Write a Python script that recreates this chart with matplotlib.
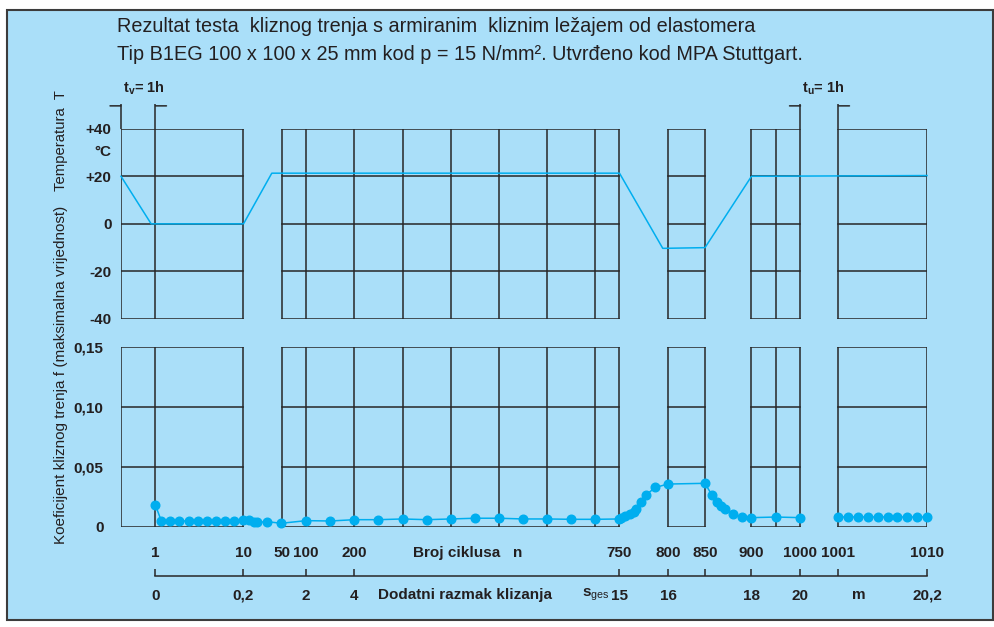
import matplotlib.pyplot as plt
import numpy as np
from matplotlib.patches import Rectangle

plt.rcParams['font.family'] = ['Liberation Sans', 'DejaVu Sans']
plt.rcParams['mathtext.fontset'] = 'custom'
plt.rcParams['mathtext.rm'] = 'Liberation Sans'
plt.rcParams['mathtext.bf'] = 'Liberation Sans:bold'

# broken cycle axis: panels and their inner grid lines (in load cycles)
panels = [(-2.5, 10), (50, 750), (800, 850), (900, 1000), (1001, 1010)]
panel_inner = [[1], [100, 200, 300, 400, 500, 600, 700], [], [950], []]

cycle_ticks = [1, 10, 50, 100, 200, 750, 800, 850, 900, 1000, 1001, 1010]
slide_ticks = [1, 10, 100, 200, 750, 800, 850, 900, 1000, 1001, 1010]
slide_labels = ['0', '0,2', '2', '4', '15', '16', '', '18', '20', '', '20,2']

temp_ticks = [40, 20, 0, -20, -40]
temp_labels = ['+40', '+20', '0', '-20', '-40']
fric_ticks = [0.15, 0.10, 0.05, 0]
fric_labels = ['0,15', '0,10', '0,05', '0']

# temperature programme
temp_cycles = [-2.5, 0.56, 10, 39.4, 750, 794.6, 850, 900, 1010]
temp_values = [20, 0, 0, 21.3, 21.3, -10.3, -10, 20, 20.3]

# measured friction coefficient, cycles 1..1000
fric_cycles = [1, 1.6, 2.5, 3.4, 4.4, 5.3, 6.3, 7.2, 8.1, 9.05, 9.95,
               15.4, 20.9, 24, 34.9, 49.3,
               100, 150, 200, 250, 300, 350, 400, 450, 500, 550, 600, 650, 700, 750,
               751.7, 756, 760.5, 764.6, 767.3, 772, 777.2, 787, 800, 850,
               857.6, 862.7, 867, 871.7, 879.6, 889.4, 900, 950, 1000]
fric_values = [0.018, 0.005, 0.005, 0.005, 0.005, 0.005, 0.005, 0.005, 0.005, 0.005, 0.006,
               0.0058, 0.0044, 0.0039, 0.0044, 0.0031,
               0.0053, 0.005, 0.0061, 0.0061, 0.0067, 0.0061, 0.0067, 0.0073, 0.0073,
               0.0067, 0.0067, 0.0064, 0.0064, 0.0067,
               0.0078, 0.0092, 0.0108, 0.0123, 0.0148, 0.0206, 0.0267, 0.033, 0.0358, 0.0364,
               0.0264, 0.0206, 0.0175, 0.015, 0.0106, 0.0086, 0.0078, 0.0083, 0.0078]
# after the 1 h pause, cycles 1001..1010
fric2_cycles = [1001, 1002, 1003, 1004, 1005, 1006, 1007, 1008, 1009, 1010]
fric2_values = [0.0086] * 10

W, H = 995, 627
bg = '#aadff9'
grid = '#272727'
blue = '#00aeef'
txt = '#231f20'

# piecewise linear cycle scale (breakpoints in pixels)
axis_cycles = np.array([-2.5, 1, 10, 50, 750, 800, 850, 900, 1000, 1001, 1010], float)
axis_pos = np.array([121, 155.5, 243.5, 282, 619.5, 668, 705, 751.5, 800.5, 838.5, 927], float)
lo = (axis_pos[1] - axis_pos[0]) / (axis_cycles[1] - axis_cycles[0])
hi = (axis_pos[-1] - axis_pos[-2]) / (axis_cycles[-1] - axis_cycles[-2])
cyc_ext = np.r_[axis_cycles[0] - 1000, axis_cycles, axis_cycles[-1] + 1000]
pos_ext = np.r_[axis_pos[0] - 1000 * lo, axis_pos, axis_pos[-1] + 1000 * hi]


def fwd(x):
    return np.interp(x, cyc_ext, pos_ext)


def inv(p):
    return np.interp(p, pos_ext, cyc_ext)


fig = plt.figure(figsize=(W / 100, H / 100), dpi=100)
fig.patch.set_facecolor('white')
fig.patches.append(Rectangle((7 / W, 1 - 620 / H), 986 / W, 610 / H, transform=fig.transFigure,
                             facecolor=bg, edgecolor='#3c3c3c', lw=1.5, zorder=-1))

x0, x1 = 121, 927
ax_t = fig.add_axes([x0 / W, 1 - 319 / H, (x1 - x0) / W, (319 - 128.7) / H])
ax_f = fig.add_axes([x0 / W, 1 - 527 / H, (x1 - x0) / W, (527 - 347) / H])

for ax, ylim in ((ax_t, (-40, 40)), (ax_f, (0, 0.15))):
    ax.set_facecolor('none')
    ax.set_xscale('function', functions=(fwd, inv))
    ax.set_xlim(-2.5, 1010)
    ax.set_ylim(*ylim)
    for s in ax.spines.values():
        s.set_visible(False)
    ax.tick_params(axis='y', length=0, labelsize=11, labelcolor=txt)

ax_t.set_xticks([])
ax_t.xaxis.set_minor_locator(plt.NullLocator())
ax_t.set_yticks(temp_ticks)
ax_t.set_yticklabels(temp_labels, fontweight='bold')
ax_t.tick_params(axis='y', pad=6.8)
ax_f.set_yticks(fric_ticks)
ax_f.set_yticklabels(fric_labels, fontweight='bold')
ax_f.tick_params(axis='y', pad=12.6)

# panel frames and grid
for ax, yt in ((ax_t, temp_ticks), (ax_f, fric_ticks)):
    for (a, b), inner in zip(panels, panel_inner):
        ax.hlines(yt, a, b, color=grid, lw=1.1, zorder=2, capstyle='projecting')
        ax.vlines([a, b] + inner, min(yt), max(yt), color=grid, lw=1.1, zorder=2,
                  capstyle='projecting')

# t_v and t_u hold periods above the temperature panel
for xa, xb, name in ((-2.5, 1, 'v'), (1000, 1001, 'u')):
    ax_t.vlines([xa, xb], 40, 50.4, color=grid, lw=1.1, clip_on=False)
    for x, d in ((xa, -7.9), (xb, 7.9)):
        ax_t.annotate('', xy=(x, 49.6), xytext=(d, 0), textcoords='offset points',
                      arrowprops=dict(arrowstyle='-', color=grid, lw=1.1,
                                      shrinkA=0, shrinkB=0),
                      annotation_clip=False)
    ax_t.annotate(r'$\mathbf{t}_{\mathbf{%s}}$= 1h' % name, xy=(xa, 40),
                  xytext=(1.3, 29.3), textcoords='offset points', ha='left', va='center',
                  fontsize=10.5, fontweight='bold', color=txt, annotation_clip=False)

ax_t.annotate('°C', xy=(0, 30), xycoords=('axes fraction', 'data'), xytext=(-6.8, 0),
              textcoords='offset points', ha='right', va='center', fontsize=11,
              fontweight='bold', color=txt)

# data
ax_t.plot(temp_cycles, temp_values, color=blue, lw=1.1, zorder=3, clip_on=False)
ax_f.plot(fric_cycles, fric_values, color=blue, lw=1.1, marker='o', ms=6.2,
          mec=blue, mfc=blue, zorder=3, clip_on=False)
ax_f.plot(fric2_cycles, fric2_values, color=blue, lw=1.1, marker='o', ms=6.2,
          mec=blue, mfc=blue, zorder=3, clip_on=False)

# bottom scale: cycle numbers above, sliding distance below
ax_f.spines['bottom'].set_visible(True)
ax_f.spines['bottom'].set_position(('outward', 35.3))
ax_f.spines['bottom'].set_bounds(1, 1010)
ax_f.spines['bottom'].set_color(grid)
ax_f.spines['bottom'].set_linewidth(1.1)
ax_f.set_xticks(slide_ticks)
ax_f.set_xticklabels(slide_labels, fontweight='bold')
ax_f.xaxis.set_minor_locator(plt.NullLocator())
ax_f.tick_params(axis='x', direction='in', length=5, width=1.1, color=grid,
                 labelsize=11, labelcolor=txt, pad=9)
for c in cycle_ticks:
    ax_f.annotate(str(c), xy=(c, 0), xytext=(0, -18.9), textcoords='offset points',
                  ha='center', va='center', fontsize=11, fontweight='bold', color=txt,
                  annotation_clip=False)

fig.text(413 / W, 1 - 553 / H, 'Broj ciklusa   n', ha='left', va='center',
         fontsize=11, fontweight='bold', color=txt)
fig.text(378 / W, 1 - 595 / H, 'Dodatni razmak klizanja', ha='left', va='center',
         fontsize=11, fontweight='bold', color=txt)
fig.text(582 / W, 1 - 595 / H, r'$\mathbf{s}_{\mathrm{ges}}$', ha='left', va='center',
         fontsize=11, color=txt)
fig.text(859 / W, 1 - 595 / H, 'm', ha='center', va='center',
         fontsize=11, fontweight='bold', color=txt)

# axis titles
fig.text(61 / W, 1 - 141 / H, 'Temperatura  T', rotation=90, ha='center', va='center',
         fontsize=10.7, color=txt)
fig.text(61 / W, 1 - 375 / H, 'Koeficijent kliznog trenja f (maksimalna vrijednost)',
         rotation=90, ha='center', va='center', fontsize=11, color=txt)

fig.text(117 / W, 1 - 32.3 / H,
         'Rezultat testa  kliznog trenja s armiranim  kliznim ležajem od elastomera',
         ha='left', va='baseline', fontsize=14.35, color=txt)
fig.text(117 / W, 1 - 60 / H,
         'Tip B1EG 100 x 100 x 25 mm kod p = 15 N/mm². Utvrđeno kod MPA Stuttgart.',
         ha='left', va='baseline', fontsize=14.35, color=txt)

fig.savefig('out.png', dpi=100, facecolor=fig.get_facecolor())
